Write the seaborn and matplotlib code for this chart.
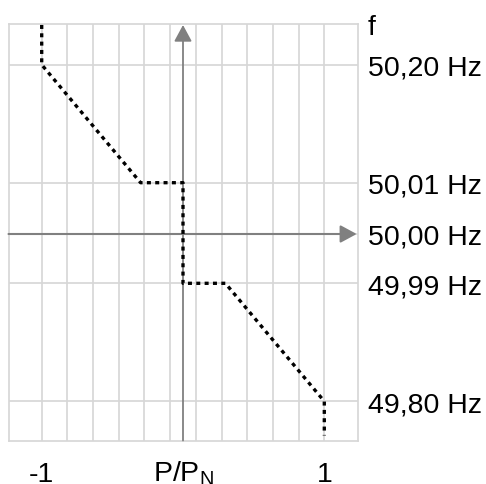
import numpy as np
import matplotlib
matplotlib.use("Agg")
import matplotlib.pyplot as plt
import seaborn as sns

# ---- data ----
freq_ticks = [49.80, 49.99, 50.00, 50.01, 50.20]
freq_labels = ["49,80 Hz", "49,99 Hz", "50,00 Hz", "50,01 Hz", "50,20 Hz"]
curve_p = [-1.0, -1.0, -0.3, 0.0, 0.0, 0.3, 1.0, 1.0]
curve_f = [50.264, 50.20, 50.01, 50.01, 49.99, 49.99, 49.80, 49.745]
p_labels = ["-1", "$\\mathregular{P/P_N}$", "1"]
p_label_pos = [-1.0, 0.0, 1.0]

# ---- piecewise frequency scale (layout positions of the ticks) ----
scale_pos = np.array([-167.3, -49.3, 0.0, 51.3, 169.3])
scale_f = np.array(freq_ticks)
s_lo = (scale_pos[1] - scale_pos[0]) / (scale_f[1] - scale_f[0])
s_hi = (scale_pos[-1] - scale_pos[-2]) / (scale_f[-1] - scale_f[-2])


def fwd(v):
    v = np.asarray(v, dtype=float)
    flat = np.atleast_1d(v).copy()
    out = np.interp(flat, scale_f, scale_pos)
    lo = flat < scale_f[0]
    hi = flat > scale_f[-1]
    out[lo] = scale_pos[0] + (flat[lo] - scale_f[0]) * s_lo
    out[hi] = scale_pos[-1] + (flat[hi] - scale_f[-1]) * s_hi
    return out.reshape(v.shape)


def inv(y):
    y = np.asarray(y, dtype=float)
    flat = np.atleast_1d(y).copy()
    out = np.interp(flat, scale_pos, scale_f)
    lo = flat < scale_pos[0]
    hi = flat > scale_pos[-1]
    out[lo] = scale_f[0] + (flat[lo] - scale_pos[0]) / s_lo
    out[hi] = scale_f[-1] + (flat[hi] - scale_pos[-1]) / s_hi
    return out.reshape(y.shape)


sns.set_style("white")
plt.rcParams["font.family"] = ["Liberation Sans", "DejaVu Sans"]
plt.rcParams["mathtext.fontset"] = "custom"
plt.rcParams["mathtext.rm"] = "Liberation Sans"

FS = 20.5
W, H = 486, 485
fig = plt.figure(figsize=(W / 100, H / 100), dpi=100)
left, right, top, bottom = 8.5, 357.5, 25.0, 441.5
ax = fig.add_axes([left / W, (H - bottom) / H, (right - left) / W, (bottom - top) / H])

ax.set_yscale("function", functions=(fwd, inv))
ax.set_xlim((left - 183) / 141.3, (right - 183) / 141.3)
ax.set_ylim(float(inv(np.array(-206.5))), float(inv(np.array(210.0))))

grid_color = "#d6d6d6"
grid_p = [-1 + k * 2 / 11 for k in range(12)]
ax.set_xticks(grid_p)
ax.set_xticklabels([])
ax.set_yticks(freq_ticks)
ax.set_yticklabels(freq_labels, fontsize=FS, color="black")
ax.yaxis.tick_right()
ax.tick_params(axis="both", length=0)
ax.tick_params(axis="y", pad=7.8)
ax.yaxis.set_minor_locator(matplotlib.ticker.NullLocator())
ax.grid(True, color=grid_color, linewidth=1.2)
for sp in ax.spines.values():
    sp.set_color(grid_color)
    sp.set_linewidth(1.2)

# axes with arrows
axis_gray = "#808080"
ax.annotate("", xy=(0, 0.9976), xytext=(0, 0.0),
            xycoords=("data", "axes fraction"), textcoords=("data", "axes fraction"),
            arrowprops=dict(arrowstyle="-|>,head_length=1.0,head_width=0.54",
                            mutation_scale=10, color=axis_gray, lw=1.3,
                            shrinkA=0, shrinkB=0), annotation_clip=False)
ax.annotate("", xy=(0.9977, 50.00), xytext=(0.0, 50.00),
            xycoords=("axes fraction", "data"), textcoords=("axes fraction", "data"),
            arrowprops=dict(arrowstyle="-|>,head_length=1.0,head_width=0.54",
                            mutation_scale=10, color=axis_gray, lw=1.5,
                            shrinkA=0, shrinkB=0), annotation_clip=False)

sns.lineplot(x=curve_p, y=curve_f, sort=False, estimator=None, ax=ax,
             color="black", linewidth=2.4, linestyle=(0, (1.2, 1.3)),
             dash_capstyle="butt", zorder=5)

# bottom labels
trans = matplotlib.transforms.blended_transform_factory(ax.transData, ax.transAxes)
for lab, p in zip(p_labels, p_label_pos):
    ax.text(p, (bottom - 481.7) / (bottom - top), lab, transform=trans,
            ha="center", va="baseline", fontsize=FS, color="black")

fig.text(368 / W, 1 - 35 / H, "f", ha="left", va="baseline", fontsize=FS, color="black")

fig.savefig("out.png", dpi=100)
